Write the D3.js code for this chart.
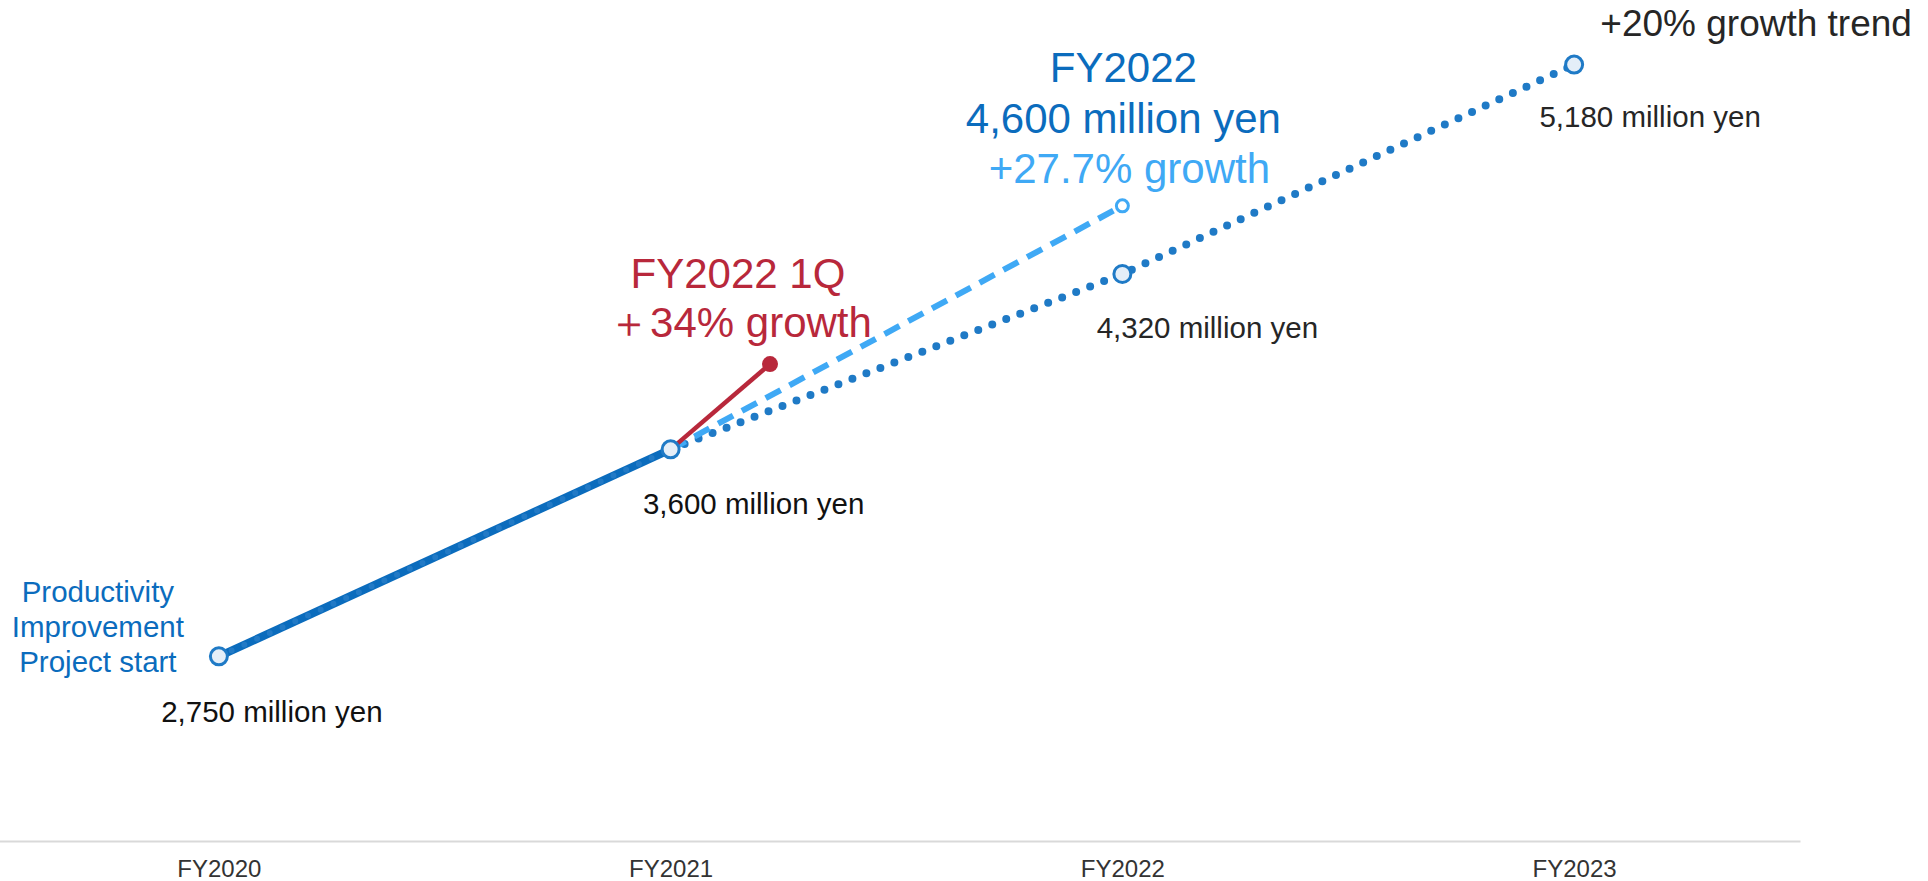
<!DOCTYPE html>
<html>
<head>
<meta charset="utf-8">
<script src="https://cdn.jsdelivr.net/npm/d3@7"></script>
<style>
  html, body { margin: 0; padding: 0; background: #fff; }
  svg { display: block; font-family: "Liberation Sans", Arial, sans-serif; }
</style>
</head>
<body>
<svg id="chart" width="1928" height="881"></svg>
<script>
// Fiscal years on the axis
const yearNums = [2020, 2021, 2022, 2023];
const yearLabels = ["FY2020", "FY2021", "FY2022", "FY2023"];

// Actual sales (million yen), FY2020 -> FY2021
const actualYears = [2020, 2021];
const actualValues = [2750, 3600];

// +20% growth trend, FY2021 -> FY2023
const trendYears = [2021, 2022, 2023];
const trendValues = [3600, 4320, 5180];

// FY2022 plan, +27.7% growth
const planYears = [2021, 2022];
const planValues = [3600, 4600];

// FY2022 1Q pace, +34% growth
const q1Years = [2021, 2021.22];
const q1Values = [3600, 3950];

const W = 1928, H = 881;
const svg = d3.select("#chart");

const x = d3.scaleLinear().domain([2019.5, 2023.5]).range([-7, 1800]);
const y = d3.scaleLinear().domain([2000, 5400]).range([839, 11]);

const C = {
  dark: "#0b6cbd",
  trend: "#1f7ac6",
  light: "#3fa9f5",
  red: "#b8283b",
  text: "#262626"
};

// x axis
const axis = d3.axisBottom(x)
  .tickValues(yearNums)
  .tickFormat((d, i) => yearLabels[i])
  .tickSizeInner(0).tickSizeOuter(0).tickPadding(19);
const gx = svg.append("g").attr("transform", "translate(0,841)").call(axis);
gx.select(".domain").attr("stroke", "#d9d9d9").attr("stroke-width", 2);
gx.selectAll("text").attr("font-size", 24).attr("fill", "#333")
  .attr("font-family", "'Liberation Sans', Arial, sans-serif");

const line = d3.line().x(d => x(d[0])).y(d => y(d[1]));
const pts = (xs, vs) => xs.map((v, i) => [v, vs[i]]);

// dotted trend line
svg.append("path").datum(pts(trendYears, trendValues))
  .attr("d", line).attr("fill", "none")
  .attr("stroke", C.trend).attr("stroke-width", 8)
  .attr("stroke-linecap", "round").attr("stroke-dasharray", "0 15");

// dashed plan line
svg.append("path").datum(pts(planYears, planValues))
  .attr("d", line).attr("fill", "none")
  .attr("stroke", C.light).attr("stroke-width", 6)
  .attr("stroke-dasharray", "17 10");

// 1Q pace line
svg.append("path").datum(pts(q1Years, q1Values))
  .attr("d", line).attr("fill", "none")
  .attr("stroke", C.red).attr("stroke-width", 4.5);

// actual line: solid with faint dotted texture
svg.append("path").datum(pts(actualYears, actualValues))
  .attr("d", line).attr("fill", "none")
  .attr("stroke", C.dark).attr("stroke-width", 8);
svg.append("path").datum(pts(actualYears, actualValues))
  .attr("d", line).attr("fill", "none")
  .attr("stroke", "#3d8bd0").attr("stroke-opacity", 0.45).attr("stroke-width", 6)
  .attr("stroke-linecap", "round").attr("stroke-dasharray", "0 14");

// markers
const hollow = [
  [actualYears[0], actualValues[0]],
  [actualYears[1], actualValues[1]],
  [trendYears[1], trendValues[1]],
  [trendYears[2], trendValues[2]]
];
svg.selectAll("circle.hollow").data(hollow).join("circle")
  .attr("class", "hollow")
  .attr("cx", d => x(d[0])).attr("cy", d => y(d[1])).attr("r", 8.5)
  .attr("fill", "#e4eef8").attr("stroke", C.trend).attr("stroke-width", 3);

svg.append("circle")
  .attr("cx", x(planYears[1])).attr("cy", y(planValues[1])).attr("r", 6)
  .attr("fill", "#fff").attr("stroke", C.light).attr("stroke-width", 3);

svg.append("circle")
  .attr("cx", x(q1Years[1])).attr("cy", y(q1Values[1])).attr("r", 8)
  .attr("fill", C.red);

// labels
const fmt = d3.format(",");
function label(txt, cx, by, size, color) {
  svg.append("text").attr("x", cx).attr("y", by)
    .attr("text-anchor", "middle").attr("font-size", size)
    .attr("fill", color).text(txt);
}

const xa = x(2020), xb = x(2021), xc = x(2022), xd = x(2023);

label("Productivity", xa - 121, 602, 29.5, C.dark);
label("Improvement", xa - 121, 637, 29.5, C.dark);
label("Project start", xa - 121, 672, 29.5, C.dark);

label(fmt(actualValues[0]) + " million yen", xa + 53, 722, 29.5, "#111");
label(fmt(actualValues[1]) + " million yen", xb + 83, 514, 29.5, "#111");
label(fmt(trendValues[1]) + " million yen", xc + 85, 338, 29.5, C.text);
label(fmt(trendValues[2]) + " million yen", xd + 76, 127, 29.5, C.text);
label("+20% growth trend", xd + 182, 36, 37, C.text);

label("FY2022", xc + 1, 82, 42, C.dark);
label(fmt(planValues[1]) + " million yen", xc + 1, 133, 42, C.dark);
label("+27.7% growth", xc + 7, 183, 42, C.light);

label("FY2022 1Q", x(q1Years[1]) - 32, 288, 42, C.red);
label("＋34% growth", x(q1Years[1]) - 30, 337, 42, C.red);
</script>
</body>
</html>
